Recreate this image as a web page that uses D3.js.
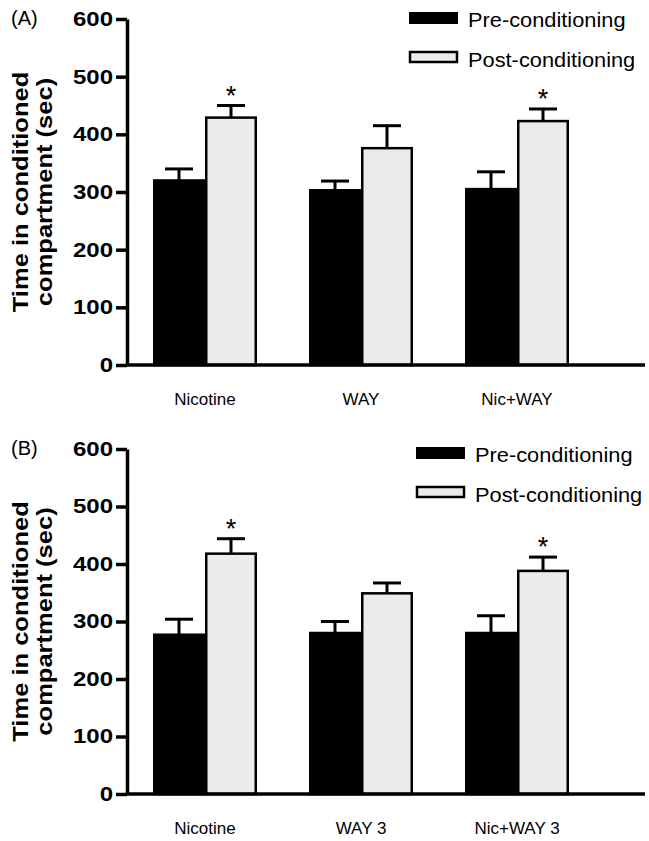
<!DOCTYPE html>
<html>
<head>
<meta charset="utf-8">
<script src="https://cdn.jsdelivr.net/npm/d3@7"></script>
<style>
    body { margin: 0; background: #ffffff; }
    text { font-family: "Liberation Sans", Arial, sans-serif; }
</style>
</head>
<body>
<div id="chart"></div>
<script>
const width = 649;
const height = 841;

// カテゴリ
const groupsA = ["Nicotine", "WAY", "Nic+WAY"];
const groupsB = ["Nicotine", "WAY 3", "Nic+WAY 3"];
const seriesNames = ["Pre-conditioning", "Post-conditioning"];

// パネルA の値 (平均 と SEM)
const preA = [320, 303, 305];
const preErrA = [20, 16, 30];
const postA = [429, 376, 423];
const postErrA = [21, 39, 21];
const starsA = [true, false, true];

// パネルB の値
const preB = [277, 280, 280];
const preErrB = [27, 20, 30];
const postB = [418, 349, 388];
const postErrB = [26, 18, 24];
const starsB = [true, false, true];

const yTicks = [0, 100, 200, 300, 400, 500, 600];

const svg = d3
    .select("#chart")
    .append("svg")
    .attr("width", width)
    .attr("height", height)
    .attr("viewBox", `0 0 ${width} ${height}`);

svg.append("rect")
    .attr("width", width)
    .attr("height", height)
    .attr("fill", "#ffffff");

// 文字を横に少し広げる (元の図のフォントが幅広いため)
function stretch(selection, factor) {
    selection.each(function () {
        const len = this.getComputedTextLength();
        d3.select(this)
            .attr("textLength", len * factor)
            .attr("lengthAdjust", "spacingAndGlyphs");
    });
}

// パネルを描く
function drawPanel(p) {
    const g = svg.append("g");

    const y = d3
        .scaleLinear()
        .domain([0, 600])
        .range([p.bottom, p.top]);

    const x0 = d3
        .scaleBand()
        .domain(p.groups)
        .range([127, 595])
        .paddingInner(1 / 3)
        .paddingOuter(1 / 6);

    const x1 = d3
        .scaleBand()
        .domain(seriesNames)
        .range([0, x0.bandwidth()]);

    const rows = p.groups.map(function (name, i) {
        return {
            group: name,
            star: p.stars[i],
            values: [
                { key: seriesNames[0], v: p.pre[i], e: p.preErr[i] },
                { key: seriesNames[1], v: p.post[i], e: p.postErr[i] }
            ]
        };
    });

    const groupG = g
        .selectAll(".grp")
        .data(rows)
        .enter()
        .append("g")
        .attr("transform", function (d) {
            return `translate(${x0(d.group)},0)`;
        });

    // エラーバー (上側のみ)
    const err = groupG
        .selectAll(".err")
        .data(function (d) { return d.values; })
        .enter()
        .append("g");

    err.append("line")
        .attr("x1", function (d) { return x1(d.key) + x1.bandwidth() / 2; })
        .attr("x2", function (d) { return x1(d.key) + x1.bandwidth() / 2; })
        .attr("y1", function (d) { return y(d.v); })
        .attr("y2", function (d) { return y(d.v + d.e); })
        .attr("stroke", "#000")
        .attr("stroke-width", 3);

    err.append("line")
        .attr("x1", function (d) { return x1(d.key) + x1.bandwidth() / 2 - 14; })
        .attr("x2", function (d) { return x1(d.key) + x1.bandwidth() / 2 + 14; })
        .attr("y1", function (d) { return y(d.v + d.e); })
        .attr("y2", function (d) { return y(d.v + d.e); })
        .attr("stroke", "#000")
        .attr("stroke-width", 3);

    // 棒
    groupG
        .selectAll(".bar")
        .data(function (d) { return d.values; })
        .enter()
        .append("rect")
        .attr("x", function (d) { return x1(d.key) + 1.25; })
        .attr("y", function (d) { return y(d.v); })
        .attr("width", x1.bandwidth() - 2.5)
        .attr("height", function (d) { return y(0) - y(d.v); })
        .attr("fill", function (d) {
            return d.key === seriesNames[0] ? "#000000" : "#ebebeb";
        })
        .attr("stroke", "#000")
        .attr("stroke-width", 2.5);

    // 有意差の *
    groupG
        .filter(function (d) { return d.star; })
        .append("text")
        .attr("x", x1(seriesNames[1]) + x1.bandwidth() / 2)
        .attr("y", function (d) {
            return y(d.values[1].v + d.values[1].e) - 1;
        })
        .attr("text-anchor", "middle")
        .attr("font-size", 27)
        .text("*");

    // Y軸
    const yAxis = g
        .append("g")
        .attr("transform", "translate(127,0)")
        .call(
            d3.axisLeft(y)
                .tickValues(yTicks)
                .tickSize(11)
                .tickSizeOuter(0)
                .tickPadding(3)
        );

    yAxis.select(".domain")
        .attr("stroke-width", 3.5);
    yAxis.selectAll(".tick line")
        .attr("stroke-width", 3.5);
    yAxis.selectAll(".tick text")
        .attr("font-family", "'Liberation Sans', Arial, sans-serif")
        .attr("font-size", 20)
        .attr("font-weight", "bold")
        .attr("fill", "#000")
        .call(stretch, 1.2);

    // X軸の線
    g.append("line")
        .attr("x1", 127)
        .attr("x2", 645)
        .attr("y1", y(0))
        .attr("y2", y(0))
        .attr("stroke", "#000")
        .attr("stroke-width", 3.5);

    const xAxis = g
        .append("g")
        .attr("transform", `translate(0,${y(0)})`)
        .call(d3.axisBottom(x0).tickSize(0).tickPadding(28));

    xAxis.select(".domain").remove();
    xAxis.selectAll(".tick text")
        .attr("font-family", "'Liberation Sans', Arial, sans-serif")
        .attr("font-size", 17)
        .attr("fill", "#000");

    // Y軸ラベル (2行)
    const mid = (p.top + p.bottom) / 2;
    const yLabel = ["Time in conditioned", "compartment (sec)"];
    g.selectAll(".ylab")
        .data(yLabel)
        .enter()
        .append("text")
        .attr("transform", function (d, i) {
            return `translate(${28 + i * 24},${mid}) rotate(-90)`;
        })
        .attr("text-anchor", "middle")
        .attr("font-size", 22)
        .attr("font-weight", "bold")
        .text(function (d) { return d; })
        .call(stretch, 1.16);

    // パネル記号
    g.append("text")
        .attr("x", 11)
        .attr("y", p.labelY)
        .attr("font-size", 20)
        .text(p.label);

    // 凡例
    const leg = g
        .append("g")
        .attr("transform", `translate(${p.legX},${p.legY})`);

    leg.append("rect")
        .attr("x", 0)
        .attr("y", 0)
        .attr("width", 49)
        .attr("height", 12)
        .attr("fill", "#000");

    leg.append("rect")
        .attr("x", 1)
        .attr("y", 40)
        .attr("width", 47)
        .attr("height", 10)
        .attr("fill", "#ebebeb")
        .attr("stroke", "#000")
        .attr("stroke-width", 2.5);

    leg.selectAll(".legtext")
        .data(seriesNames)
        .enter()
        .append("text")
        .attr("x", 59)
        .attr("y", function (d, i) { return 15 + i * 40; })
        .attr("font-size", 20)
        .text(function (d) { return d; })
        .call(stretch, 1.09);
}

drawPanel({
    groups: groupsA,
    pre: preA, preErr: preErrA,
    post: postA, postErr: postErrA,
    stars: starsA,
    top: 19, bottom: 365,
    label: "(A)", labelY: 25,
    legX: 409, legY: 12
});

drawPanel({
    groups: groupsB,
    pre: preB, preErr: preErrB,
    post: postB, postErr: postErrB,
    stars: starsB,
    top: 449, bottom: 794,
    label: "(B)", labelY: 455,
    legX: 416, legY: 447
});
</script>
</body>
</html>
